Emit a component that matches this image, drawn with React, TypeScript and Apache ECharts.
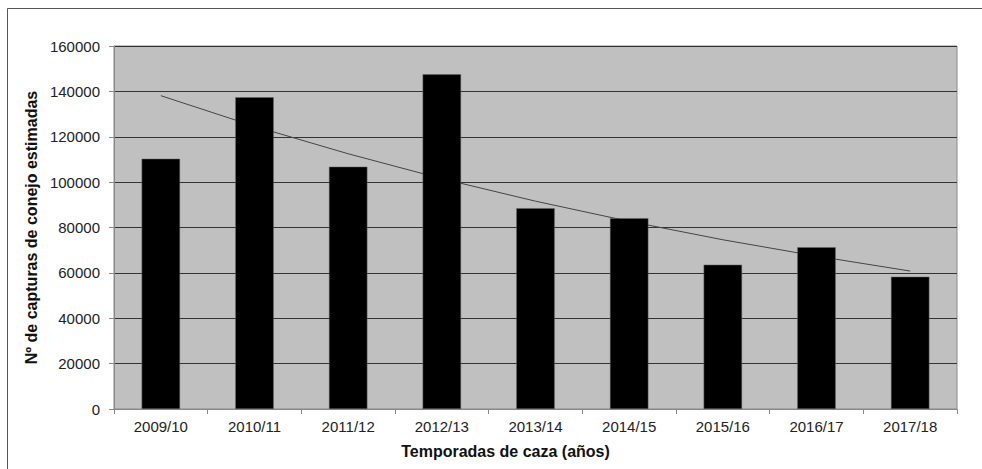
import React, { useEffect, useRef } from "react";
import * as echarts from "echarts";

const categories = ["2009/10", "2010/11", "2011/12", "2012/13", "2013/14", "2014/15", "2015/16", "2016/17", "2017/18"];
const captures = [110300, 137400, 106800, 147500, 88500, 84100, 63600, 71300, 58300];
// trend line (curved) read at each category centre
const trend = [138100, 124600, 112500, 101500, 91600, 82700, 74600, 67400, 60800];
const yTicks = [0, 20000, 40000, 60000, 80000, 100000, 120000, 140000, 160000];

export default function App() {
  const ref = useRef<HTMLDivElement>(null);
  useEffect(() => {
    if (!ref.current) return;
    const chart = echarts.init(ref.current, null, { renderer: "svg" });
    chart.setOption({
      animation: false,
      textStyle: { fontFamily: "Liberation Sans, Arial, sans-serif" },
      graphic: [
        {
          type: "rect",
          shape: { x: 7.5, y: 8.5, width: 1000, height: 500 },
          style: { fill: "none", stroke: "#555", lineWidth: 1 },
          silent: true,
        },
      ],
      grid: { left: 114, top: 46, right: 25, bottom: 60, show: true, backgroundColor: "#c0c0c0", borderColor: "#888", borderWidth: 1 },
      xAxis: {
        type: "category",
        data: categories,
        name: "Temporadas de caza (años)",
        nameLocation: "middle",
        nameGap: 34,
        nameTextStyle: { fontWeight: "bold", fontSize: 16, color: "#111", padding: [0, 60, 0, 0] },
        axisLine: { lineStyle: { color: "#888", width: 1 } },
        axisTick: { show: true, alignWithLabel: false, length: 5, lineStyle: { color: "#888" } },
        axisLabel: { fontSize: 15, color: "#222", margin: 10 },
      },
      yAxis: {
        type: "value",
        min: yTicks[0],
        max: yTicks[yTicks.length - 1],
        interval: 20000,
        name: "Nº de capturas de conejo estimadas",
        nameLocation: "middle",
        nameGap: 72,
        nameTextStyle: { fontWeight: "bold", fontSize: 16, color: "#111" },
        axisLine: { show: true, lineStyle: { color: "#888", width: 1 } },
        axisTick: { show: true, length: 5, lineStyle: { color: "#888" } },
        axisLabel: { fontSize: 15, color: "#222", margin: 14, formatter: (v: number) => String(v) },
        splitLine: { lineStyle: { color: "#333", width: 1 } },
      },
      series: [
        {
          type: "line",
          data: trend,
          z: 1,
          symbol: "none",
          lineStyle: { color: "#444", width: 1 },
        },
        {
          type: "bar",
          data: captures,
          z: 3,
          barWidth: "41%",
          itemStyle: { color: "#000", borderColor: "#666", borderWidth: 0.5 },
        },
      ],
    });
    return () => chart.dispose();
  }, []);
  return <div ref={ref} style={{ width: 982, height: 469, position: "absolute", left: 0, top: 0 }} />;
}
